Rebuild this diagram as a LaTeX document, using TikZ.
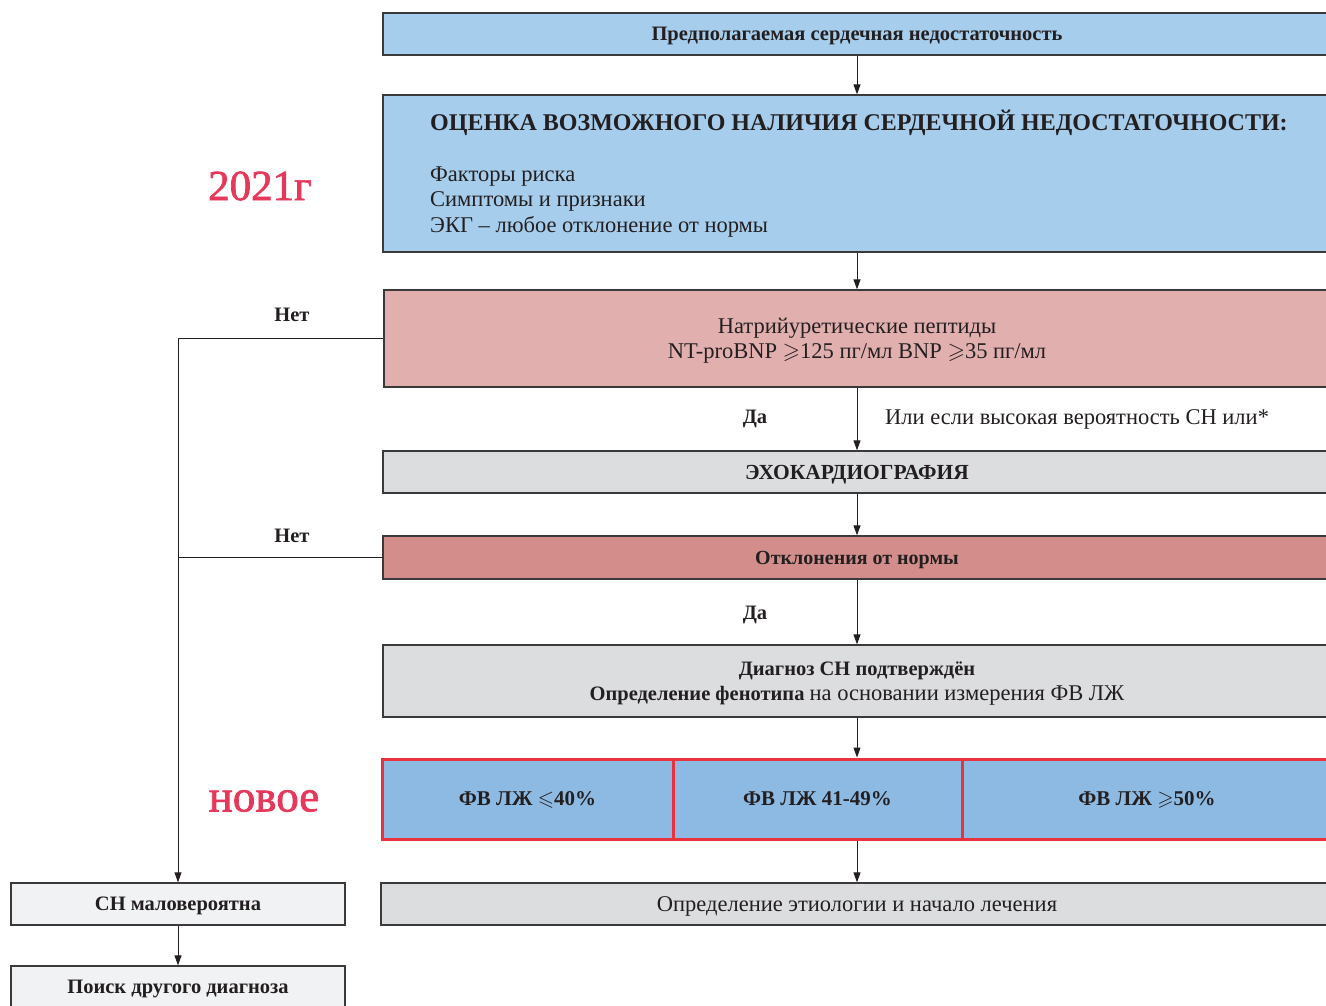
\documentclass[tikz,border=0pt]{standalone}
\usepackage{amsmath}
\usepackage{amssymb}
\usepackage{fontspec}
\setmainfont{Liberation Serif}
\newfontfamily\heavyserif[FakeBold=1.6]{Liberation Serif}
\usetikzlibrary{arrows.meta}
\definecolor{ink}{HTML}{231F20}
\definecolor{boxline}{HTML}{3A3A3A}
\definecolor{lblue}{HTML}{A6CDEC}
\definecolor{lpink}{HTML}{E2AFAF}
\definecolor{lgray}{HTML}{DCDDDF}
\definecolor{rose}{HTML}{D38E8C}
\definecolor{fvblue}{HTML}{8DBAE3}
\definecolor{fvred}{HTML}{E8333E}
\definecolor{pale}{HTML}{F1F2F4}
\definecolor{yearred}{HTML}{E6385A}
\begin{document}
\begin{tikzpicture}[x=1pt,y=-1pt,
  box/.style={draw=boxline, line width=1.3pt, inner sep=0pt, text=ink, align=center,
    text depth=0pt, font=\fontsize{22.5}{25.5}\selectfont},
  bbox/.style={box, font=\fontsize{20.5}{25}\selectfont\bfseries},
  fvbox/.style={draw=fvred, fill=fvblue, line width=3pt, inner sep=0pt, text=ink,
    text depth=0pt, minimum height=80pt, font=\fontsize{21}{25}\selectfont\bfseries},
  arr/.style={draw=ink, line width=1pt, -{Triangle[length=10pt,width=7pt]}},
  conn/.style={draw=ink, line width=1pt},
  txt/.style={inner sep=0pt, text=ink, font=\fontsize{22.5}{25.5}\selectfont},
  btxt/.style={inner sep=0pt, text=ink, font=\fontsize{20.5}{25}\selectfont\bfseries},
  big/.style={inner sep=0pt, text=yearred, font=\heavyserif\fontsize{43}{48}\selectfont}
]
\useasboundingbox (0,0) rectangle (1326,1005);
\clip (0,0) rectangle (1326,1005);

% main column
\node[bbox, fill=lblue, minimum width=948pt, minimum height=42pt] (b1) at (857,34)
  {Предполагаемая сердечная недостаточность};
\node[box, fill=lblue, minimum width=948pt, minimum height=157pt] (b2) at (857,173.5) {};
\node[btxt, anchor=west, font=\fontsize{24}{28}\selectfont\bfseries] (b2t) at (430,123)
  {ОЦЕНКА ВОЗМОЖНОГО НАЛИЧИЯ СЕРДЕЧНОЙ НЕДОСТАТОЧНОСТИ:};
\node[txt, anchor=west, align=left] (b2l) at (430,202)
  {Факторы риска\\Симптомы и признаки\\ЭКГ -- любое отклонение от нормы};
\node[box, fill=lpink, minimum width=946pt, minimum height=97pt] (b3) at (857,338.5)
  {Натрийуретические пептиды\\NT-proBNP $\geqslant$125 пг/мл BNP $\geqslant$35 пг/мл};
\node[bbox, fill=lgray, minimum width=948pt, minimum height=42pt,
  font=\fontsize{21.5}{25}\selectfont\bfseries] (b4) at (857,472)
  {ЭХОКАРДИОГРАФИЯ};
\node[bbox, fill=rose, minimum width=948pt, minimum height=43pt,
  font=\fontsize{20}{25}\selectfont\bfseries] (b5) at (857,557.5)
  {Отклонения от нормы};
\node[box, fill=lgray, minimum width=948pt, minimum height=72pt] (b6) at (857,681)
  {{\fontsize{20.5}{25}\selectfont\textbf{Диагноз СН подтверждён}}\\
   {\fontsize{20.5}{25}\selectfont\textbf{Определение фенотипа} \fontsize{22.5}{25}\selectfont на основании измерения ФВ ЛЖ}};
\node[fvbox, minimum width=291pt] (f1) at (527.5,799) {ФВ ЛЖ $\boldsymbol{\leqslant}$40\%};
\node[fvbox, minimum width=289pt] (f2) at (817.5,799) {ФВ ЛЖ 41-49\%};
\node[fvbox, minimum width=370pt] (f3) at (1147,799) {ФВ ЛЖ $\boldsymbol{\geqslant}$50\%};
\node[box, fill=lgray, minimum width=952pt, minimum height=42pt] (b8) at (857,904)
  {Определение этиологии и начало лечения};

% left column
\node[bbox, fill=pale, minimum width=334pt, minimum height=42pt] (cn) at (178,904)
  {СН маловероятна};
\node[bbox, fill=pale, minimum width=334pt, minimum height=42pt] (pd) at (178,987)
  {Поиск другого диагноза};

% labels
\node[btxt] (no1) at (292,315) {Нет};
\node[btxt] (no2) at (292,536) {Нет};
\node[btxt] (yes1) at (755,419) {Да};
\node[btxt] (yes2) at (755,615) {Да};
\node[txt, anchor=west] (alt) at (885,419) {Или если высокая вероятность СН или*};
\node[big] (yr) at (260,186) {2021г};
\node[big, font=\heavyserif\fontsize{45}{50}\selectfont] (nw) at (264,801) {новое};

% connectors
\draw[arr] (b1.south) -- (b2.north);
\draw[arr] (b2.south) -- (b3.north);
\draw[arr] (b3.south) -- (b4.north);
\draw[arr] (b4.south) -- (b5.north);
\draw[arr] (b5.south) -- (b6.north);
\coordinate (fvtop) at (b6.south |- f2.north);
\coordinate (fvbot) at (b6.south |- f2.south);
\draw[arr] (b6.south) -- (fvtop);
\draw[arr] (fvbot) -- (b8.north);
\draw[arr] (b3.west) -| (cn.north);
\draw[conn] (b5.west) -- (b5.west -| cn.north);
\draw[arr] (cn.south) -- (pd.north);
\end{tikzpicture}
\end{document}
